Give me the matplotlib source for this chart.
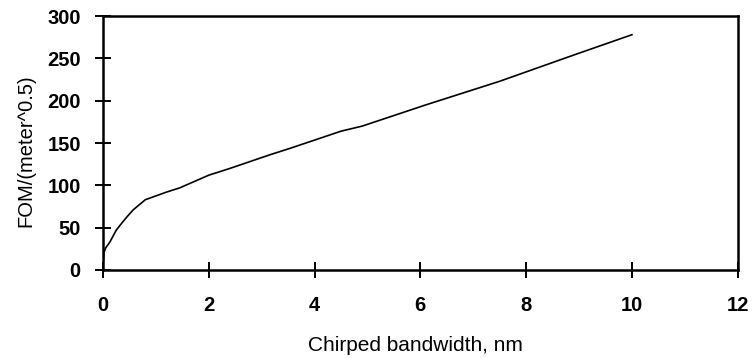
import matplotlib
matplotlib.use("Agg")
import matplotlib.pyplot as plt

plt.rcParams['font.family'] = ['Liberation Sans', 'DejaVu Sans']

# Figure of merit versus chirped bandwidth
bandwidth_nm = [0, 0.02, 0.05, 0.13, 0.25, 0.35, 0.47, 0.57, 0.8, 1.2, 1.45,
                2.0, 2.4, 3.15, 3.55, 4.5, 4.9, 6.1, 7.5, 8.9, 10]
fom = [5, 21, 26, 33, 47, 55, 64, 71, 83, 92, 97,
       112, 120, 136, 144, 164, 170, 195, 223, 254, 278]

x_ticks = [0, 2, 4, 6, 8, 10, 12]
y_ticks = [0, 50, 100, 150, 200, 250, 300]

fig = plt.figure(figsize=(7.52, 3.58), dpi=100)
ax = fig.add_axes([0.137, 0.246, 0.844, 0.709])

ax.plot(bandwidth_nm, fom, color='black', linewidth=1.2)

ax.set_xlim(0, 12)
ax.set_ylim(0, 300)
ax.set_xticks(x_ticks)
ax.set_yticks(y_ticks)
ax.tick_params(direction='inout', length=12, width=1.4, labelsize=14.5)
ax.tick_params(axis='x', pad=13)
ax.tick_params(axis='y', pad=10)
for lbl in ax.get_xticklabels() + ax.get_yticklabels():
    lbl.set_fontweight('bold')

for sp in ax.spines.values():
    sp.set_linewidth(1.8)

ax.set_xlabel('Chirped bandwidth, nm', fontsize=15)
ax.xaxis.set_label_coords(0.493, -0.26)
ax.set_ylabel('FOM/(meter^0.5)', fontsize=14.5)
ax.yaxis.set_label_coords(-0.106, 0.47)

fig.savefig('out.png', dpi=100)
